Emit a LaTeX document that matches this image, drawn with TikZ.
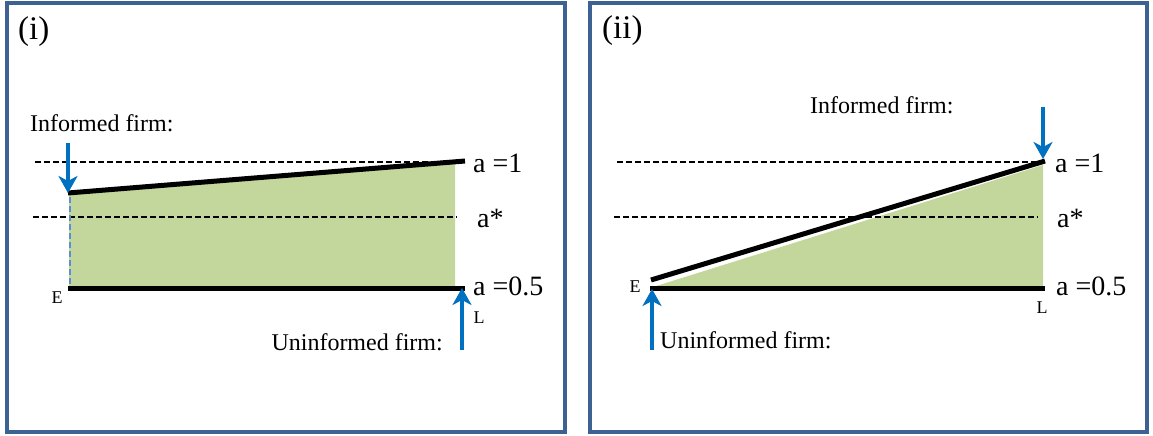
\documentclass[tikz,border=0pt]{standalone}
\usepackage{fontspec}
\setmainfont{Liberation Serif}
\usetikzlibrary{arrows.meta}
\definecolor{framecol}{HTML}{3E6194}
\definecolor{areagreen}{HTML}{C3D69B}
\definecolor{arrowblue}{HTML}{0070C0}
\definecolor{dashblue}{HTML}{5B8FD0}
\tikzset{
  panel/.style={draw=framecol, line width=3.5pt},
  refline/.style={draw=black, line width=1.5pt, dash pattern=on 6pt off 3pt},
  thickline/.style={draw=black, line width=5pt},
  bluearrow/.style={draw=arrowblue, line width=4pt, -{Stealth[length=17pt,width=19pt,inset=5pt]}},
  lbl/.style={inner sep=0pt, font=\fontsize{24}{28}\selectfont},
  alabel/.style={inner sep=0pt, anchor=west, font=\fontsize{28}{32}\selectfont},
  small/.style={inner sep=0pt, font=\fontsize{18}{22}\selectfont},
  title/.style={inner sep=0pt, anchor=west, font=\fontsize{33}{38}\selectfont}
}
\begin{document}
\begin{tikzpicture}[x=1pt,y=-1pt]
\useasboundingbox (0,0) rectangle (1153,436);
% ---------- panel (i) ----------
\draw[panel] (7,3) rectangle (565,432);
\node[title] (ti) at (18,32) {(i)};
\fill[areagreen] (69,194) -- (455,163) -- (455,288) -- (69,288) -- cycle;
\draw[refline] (35,162) -- (455,162);
\draw[refline] (33,217) -- (457,217);
\draw[draw=dashblue, line width=2.6pt, dash pattern=on 6pt off 3pt] (70,197) -- (70,286);
\coordinate (Ea) at (68,193);
\coordinate (Ra) at (465,161);
\coordinate (Eb) at (68,288);
\coordinate (Rb) at (465,288);
\draw[thickline] (Ea) -- (Ra);
\draw[thickline] (Eb) -- (Rb);
\node[lbl, anchor=west] (inf1) at (30,123) {Informed firm:};
\coordinate (infA) at (68,143);
\draw[bluearrow] (infA) -- (Ea);
\node[small] (E1) at (57,298) {E};
\node[alabel] (a1i) at (473,163) {a =1};
\node[alabel] (asi) at (477,218) {a*};
\node[alabel] (a05i) at (473,286) {a =0.5};
\coordinate (uninA) at (462,350);
\coordinate (uninT) at (462,288);
\draw[bluearrow] (uninA) -- (uninT);
\node[small] (L1) at (479,318) {L};
\node[lbl, anchor=east] (unin1) at (443,342) {Uninformed firm:};
% ---------- panel (ii) ----------
\draw[panel] (590,3) rectangle (1147,432);
\node[title] (tii) at (602,31) {(ii)};
\fill[areagreen] (653,287) -- (1043,165) -- (1043,288) -- cycle;
\draw[refline] (617,162) -- (1043,162);
\draw[refline] (614,217) -- (1038,217);
\coordinate (Ec) at (651,280);
\coordinate (Rc) at (1045,161);
\coordinate (Ed) at (650,288);
\coordinate (Rd) at (1045,288);
\draw[thickline] (Ec) -- (Rc);
\draw[thickline] (Ed) -- (Rd);
\node[lbl, anchor=west] (inf2) at (810,105) {Informed firm:};
\coordinate (infB) at (1043,107);
\coordinate (infT) at (1043,159);
\draw[bluearrow] (infB) -- (infT);
\node[small] (E2) at (635,287) {E};
\node[small] (L2) at (1042,308) {L};
\node[alabel] (a1ii) at (1055,163) {a =1};
\node[alabel] (asii) at (1057,218) {a*};
\node[alabel] (a05ii) at (1056,286) {a =0.5};
\coordinate (uninB) at (652,350);
\coordinate (uninU) at (652,289);
\draw[bluearrow] (uninB) -- (uninU);
\node[lbl, anchor=west] (unin2) at (660,340) {Uninformed firm:};
\end{tikzpicture}
\end{document}
